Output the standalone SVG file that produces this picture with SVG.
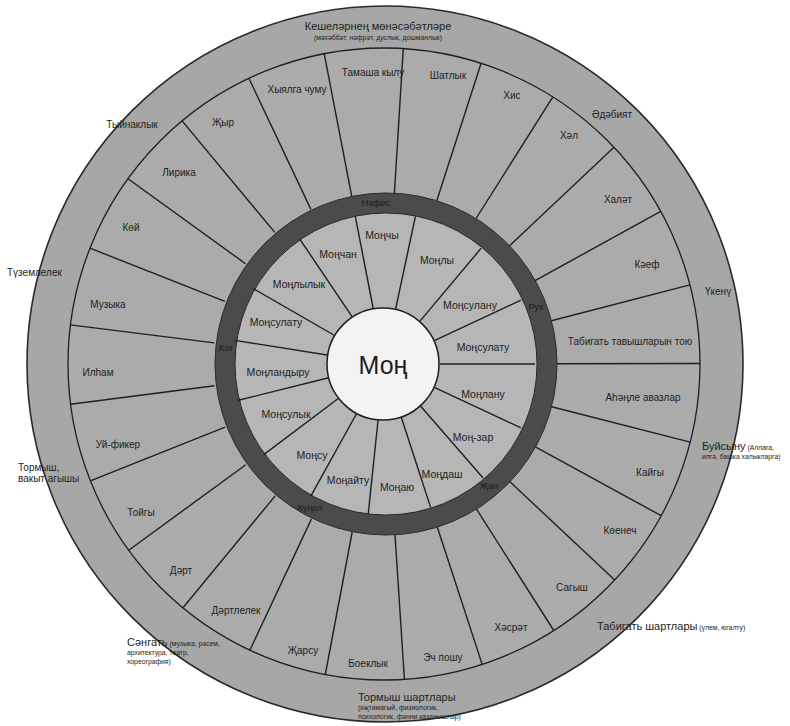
<svg xmlns="http://www.w3.org/2000/svg" width="790" height="726" viewBox="0 0 790 726">
<style>
  text { font-family: "Liberation Sans", Arial, sans-serif; fill: #1e1e1e; }
  .sec { font-size: 10px; text-anchor: middle; }
  .in { font-size: 10.5px; text-anchor: middle; }
  .ring { font-size: 9px; text-anchor: middle; fill: #1a1a1a; }
  .out { font-size: 10px; }
  .small { font-size: 6.8px; }
  .big { font-size: 11px; }
  .div { stroke: #1f1f1f; stroke-width: 1.4; fill: none; }
</style>
<rect width="790" height="726" fill="#ffffff"/>

<g id="bands">
  <circle cx="385" cy="364" r="358" fill="#a7a7a7" stroke="#2a2a2a" stroke-width="1.6"/>
  <circle cx="384" cy="364" r="316" fill="#ababab" stroke="#1f1f1f" stroke-width="1.3"/>
</g>

<g id="connectors" class="div">
  <line x1="394.4" y1="193.3" x2="403.3" y2="48.6"/>
  <line x1="436.6" y1="201.3" x2="481.1" y2="63.3"/>
  <line x1="475.4" y1="219.5" x2="552.9" y2="96.9"/>
  <line x1="508.5" y1="246.7" x2="614.0" y2="147.3"/>
  <line x1="533.7" y1="281.4" x2="660.7" y2="211.3"/>
  <line x1="549.5" y1="321.2" x2="689.9" y2="284.9"/>
  <line x1="555" y1="363.7" x2="700" y2="363.5"/>
  <line x1="549.7" y1="406.2" x2="690.2" y2="442.1"/>
  <line x1="534.0" y1="446.1" x2="661.2" y2="515.7"/>
  <line x1="508.9" y1="480.8" x2="614.7" y2="580.0"/>
  <line x1="475.9" y1="508.2" x2="553.8" y2="630.5"/>
  <line x1="437.1" y1="526.5" x2="482.2" y2="664.4"/>
  <line x1="395.0" y1="534.6" x2="404.4" y2="679.3"/>
  <line x1="352.2" y1="532.0" x2="325.3" y2="674.5"/>
  <line x1="311.5" y1="518.9" x2="249.9" y2="650.2"/>
  <line x1="275.2" y1="495.9" x2="183.0" y2="607.8"/>
  <line x1="245.8" y1="464.8" x2="128.7" y2="550.2"/>
  <line x1="225.1" y1="427.2" x2="90.4" y2="480.8"/>
  <line x1="214.4" y1="385.7" x2="70.6" y2="404.2"/>
  <line x1="214.3" y1="342.9" x2="70.4" y2="324.9"/>
  <line x1="224.9" y1="301.3" x2="90.0" y2="248.2"/>
  <line x1="245.5" y1="263.7" x2="128.0" y2="178.7"/>
  <line x1="274.8" y1="232.4" x2="182.1" y2="120.9"/>
  <line x1="310.9" y1="209.4" x2="248.9" y2="78.3"/>
  <line x1="351.7" y1="196.1" x2="324.2" y2="53.7"/>
</g>

<g id="soul-ring">
  <circle cx="386" cy="364" r="171" fill="#4b4b4b" stroke="#2a2a2a" stroke-width="1"/>
  <circle cx="386" cy="364" r="151" fill="#b6b6b6" stroke="#2a2a2a" stroke-width="1"/>
</g>

<g id="inner-connectors" class="div">
  <line x1="373.3" y1="309.0" x2="355.2" y2="215.8"/>
  <line x1="395.6" y1="309.2" x2="415.4" y2="216.3"/>
  <line x1="420.0" y1="321.1" x2="481.1" y2="248.3"/>
  <line x1="434.8" y1="340.3" x2="520.9" y2="300.2"/>
  <line x1="440" y1="364" x2="535" y2="364"/>
  <line x1="434.8" y1="387.7" x2="520.9" y2="427.8"/>
  <line x1="420.7" y1="406.3" x2="483.1" y2="478.0"/>
  <line x1="401.3" y1="417.3" x2="430.7" y2="507.6"/>
  <line x1="378.1" y1="419.7" x2="368.2" y2="514.2"/>
  <line x1="356.9" y1="413.0" x2="310.8" y2="496.1"/>
  <line x1="339.3" y1="397.7" x2="263.4" y2="454.9"/>
  <line x1="329.7" y1="377.5" x2="237.5" y2="400.5"/>
  <line x1="328.7" y1="355.2" x2="234.9" y2="340.4"/>
  <line x1="335.5" y1="336.0" x2="253.2" y2="288.5"/>
  <line x1="352.7" y1="317.6" x2="299.6" y2="238.8"/>
</g>

<g id="center">
  <circle cx="383" cy="364" r="56" fill="#f3f3f3" stroke="#1f1f1f" stroke-width="1.5"/>
  <text x="383" y="374" text-anchor="middle" font-size="25">Моң</text>
</g>

<g id="ring-labels">
  <text class="ring" x="376" y="206">Нәфес</text>
  <text class="ring" x="536" y="310">Рух</text>
  <text class="ring" x="226" y="351">Кот</text>
  <text class="ring" x="489" y="489">Җан</text>
  <text class="ring" x="310" y="511">Күңел</text>
</g>

<g id="inner-sectors">
  <g id="n-monchy"><text class="in" x="382" y="239">Моңчы</text></g>
  <g id="n-monly"><text class="in" x="437" y="264">Моңлы</text></g>
  <g id="n-monsulanu"><text class="in" x="470" y="309">Моңсулану</text></g>
  <g id="n-monsulatu-r"><text class="in" x="483" y="351">Моңсулату</text></g>
  <g id="n-monlanu"><text class="in" x="483" y="398">Моңлану</text></g>
  <g id="n-monzar"><text class="in" x="473" y="441">Моң-зар</text></g>
  <g id="n-mondash"><text class="in" x="442" y="478">Моңдаш</text></g>
  <g id="n-monayu"><text class="in" x="397" y="491">Моңаю</text></g>
  <g id="n-monaytu"><text class="in" x="348" y="484">Моңайту</text></g>
  <g id="n-monsu"><text class="in" x="312" y="459">Моңсу</text></g>
  <g id="n-monsulyk"><text class="in" x="286" y="418">Моңсулык</text></g>
  <g id="n-monlandyru"><text class="in" x="278" y="376">Моңландыру</text></g>
  <g id="n-monsulatu-l"><text class="in" x="276" y="326">Моңсулату</text></g>
  <g id="n-monlylyk"><text class="in" x="299" y="288">Моңлылык</text></g>
  <g id="n-monchan"><text class="in" x="338" y="258">Моңчан</text></g>
</g>

<g id="middle-sectors">
  <g id="s-tamasha"><text class="sec" x="373" y="76">Тамаша кылу</text></g>
  <g id="s-shatlyk"><text class="sec" x="448" y="79">Шатлык</text></g>
  <g id="s-his"><text class="sec" x="512" y="99">Хис</text></g>
  <g id="s-hal"><text class="sec" x="569" y="139">Хәл</text></g>
  <g id="s-halat"><text class="sec" x="618" y="203">Халәт</text></g>
  <g id="s-kaef"><text class="sec" x="647" y="268">Кәеф</text></g>
  <g id="s-tabigat"><text class="sec" x="630" y="345">Табигать тавышларын тою</text></g>
  <g id="s-ahang"><text class="sec" x="643" y="401">Аһәңле авазлар</text></g>
  <g id="s-kaygy"><text class="sec" x="650" y="476">Кайгы</text></g>
  <g id="s-koenech"><text class="sec" x="620" y="534">Көенеч</text></g>
  <g id="s-sagysh"><text class="sec" x="572" y="591">Сагыш</text></g>
  <g id="s-hasrat"><text class="sec" x="511" y="631">Хәсрәт</text></g>
  <g id="s-echposhu"><text class="sec" x="443" y="661">Эч пошу</text></g>
  <g id="s-boeklyk"><text class="sec" x="368" y="667">Боеклык</text></g>
  <g id="s-jarsu"><text class="sec" x="303" y="654">Җарсу</text></g>
  <g id="s-dartlelek"><text class="sec" x="236" y="614">Дәртлелек</text></g>
  <g id="s-dart"><text class="sec" x="181" y="574">Дәрт</text></g>
  <g id="s-toygy"><text class="sec" x="141" y="516">Тойгы</text></g>
  <g id="s-uyfiker"><text class="sec" x="118" y="448">Уй-фикер</text></g>
  <g id="s-ilham"><text class="sec" x="98" y="376">Илһам</text></g>
  <g id="s-muzyka"><text class="sec" x="108" y="308">Музыка</text></g>
  <g id="s-koy"><text class="sec" x="131" y="231">Көй</text></g>
  <g id="s-lirika"><text class="sec" x="179" y="176">Лирика</text></g>
  <g id="s-jyr"><text class="sec" x="223" y="126">Җыр</text></g>
  <g id="s-hyyalga"><text class="sec" x="297" y="93">Хыялга чуму</text></g>
</g>

<g id="outer-labels">
  <g id="o-keshelar">
    <text class="big" x="378" y="30" text-anchor="middle">Кешеләрнең мөнәсәбәтләре</text>
    <text class="small" x="378" y="40" text-anchor="middle">(мәхәббәт, нәфрәт, дуслык, дошманлык)</text>
  </g>
  <g id="o-adabiyat"><text class="out" x="612" y="118" text-anchor="middle">Әдәбият</text></g>
  <g id="o-tyynaklyk"><text class="out" x="132" y="128" text-anchor="middle">Тыйнаклык</text></g>
  <g id="o-tuzemlelek"><text class="out" x="7" y="276">Түземлелек</text></g>
  <g id="o-tormysh-vakyt">
    <text class="out" x="18" y="471">Тормыш,</text>
    <text class="out" x="18" y="482">вакыт агышы</text>
  </g>
  <g id="o-ukenu"><text class="out" x="705" y="295">Үкенү</text></g>
  <g id="o-buysynu">
    <text x="702" y="450"><tspan font-size="11">Буйсыну</tspan><tspan font-size="6.8"> (Аллага,</tspan></text>
    <text class="small" x="702" y="459">илгә, башка халыкларга)</text>
  </g>
  <g id="o-tabigat-shart">
    <text x="597" y="630"><tspan font-size="11">Табигать шартлары</tspan><tspan font-size="6.8"> (үлем, югалту)</tspan></text>
  </g>
  <g id="o-sanagat">
    <text x="127" y="646"><tspan font-size="11">Сәнгать</tspan><tspan font-size="6.8"> (музыка, рәсем,</tspan></text>
    <text class="small" x="127" y="655">архитектура, театр,</text>
    <text class="small" x="127" y="664">хореография)</text>
  </g>
  <g id="o-tormysh-shart">
    <text class="big" x="358" y="701">Тормыш шартлары</text>
    <text class="small" x="358" y="710">(иҗтимагый, физиологик,</text>
    <text class="small" x="358" y="719">психологик, фәнни казанышлар)</text>
  </g>
</g>
</svg>
